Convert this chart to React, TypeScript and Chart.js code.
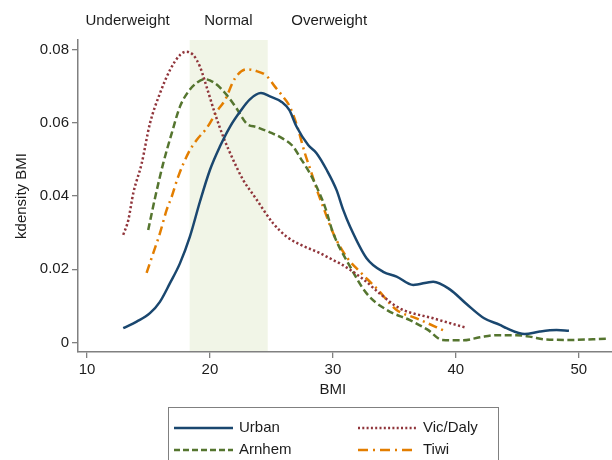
import React, { useEffect, useRef } from "react";
import { Chart, registerables } from "chart.js";

Chart.register(...registerables);

// ---------------- data ----------------
const URBAN_BMI = [12.95, 14.04, 15.12, 15.93, 16.75, 17.56, 18.37, 19.19, 20.0, 20.81, 21.63, 22.44, 23.25, 24.15, 24.88, 25.83, 26.45, 27.05, 27.99, 28.67, 29.5, 30.3, 30.84, 31.4, 32.74, 34.09, 35.18, 36.53, 38.16, 39.51, 40.87, 42.3, 43.58, 44.12, 45.6, 46.83, 48.19, 49.2];
const URBAN_DEN = [0.0039, 0.0057, 0.008, 0.0111, 0.0162, 0.0216, 0.0289, 0.0385, 0.0471, 0.0535, 0.0589, 0.063, 0.0664, 0.0681, 0.0672, 0.0657, 0.0635, 0.0589, 0.0539, 0.0517, 0.0471, 0.0416, 0.0362, 0.0316, 0.023, 0.0193, 0.018, 0.0157, 0.0166, 0.0145, 0.0105, 0.0066, 0.0048, 0.0039, 0.0023, 0.003, 0.0034, 0.0032];

const VIC_BMI = [12.95, 13.36, 13.76, 14.45, 15.12, 15.93, 16.75, 17.56, 18.05, 18.64, 19.19, 19.73, 20.4, 21.08, 21.9, 22.7, 23.7, 25.15, 26.24, 27.3, 28.94, 30.03, 30.57, 32.5, 33.8, 35.45, 38.16, 40.87];
const VIC_DEN = [0.0294, 0.0334, 0.0407, 0.0489, 0.0598, 0.068, 0.0744, 0.0785, 0.0794, 0.0785, 0.0753, 0.0698, 0.0626, 0.0562, 0.0498, 0.0444, 0.0395, 0.0325, 0.0289, 0.0268, 0.0244, 0.0225, 0.0216, 0.0172, 0.0134, 0.0093, 0.0066, 0.004];

const ARNHEM_BMI = [14.98, 15.53, 16.2, 16.89, 17.56, 18.24, 18.92, 19.59, 20.4, 21.36, 22.17, 22.98, 23.8, 24.88, 25.96, 26.77, 27.3, 28.13, 28.8, 29.35, 30.03, 31.4, 32.74, 34.37, 36.26, 37.7, 38.9, 40.6, 41.95, 43.3, 44.93, 46.0, 47.37, 49.27, 52.2];
const ARNHEM_DEN = [0.0307, 0.0394, 0.0489, 0.0571, 0.0644, 0.0685, 0.0709, 0.0719, 0.0708, 0.0676, 0.0639, 0.0598, 0.0588, 0.0574, 0.0556, 0.0535, 0.0507, 0.0462, 0.0416, 0.0371, 0.0298, 0.0207, 0.0134, 0.0089, 0.0061, 0.0035, 0.0007, 0.0006, 0.0014, 0.002, 0.002, 0.0016, 0.0008, 0.0007, 0.001];

const TIWI_BMI = [14.85, 15.39, 15.93, 16.48, 16.89, 17.42, 18.24, 18.92, 19.73, 20.54, 21.22, 22.03, 22.98, 23.8, 24.61, 25.3, 25.83, 26.5, 27.1, 27.72, 28.27, 28.8, 29.2, 30.03, 31.1, 32.2, 33.55, 35.18, 36.8, 39.2];
const TIWI_DEN = [0.019, 0.0244, 0.0298, 0.0362, 0.0398, 0.0453, 0.0517, 0.0553, 0.0585, 0.063, 0.0662, 0.0721, 0.0746, 0.0741, 0.0728, 0.0698, 0.0676, 0.0644, 0.059, 0.0517, 0.0462, 0.0407, 0.0371, 0.0298, 0.0234, 0.0193, 0.0148, 0.0089, 0.0066, 0.003];

const SERIES_NAMES = ["Urban", "Vic/Daly", "Arnhem", "Tiwi"];
const X_TICKS = [10, 20, 30, 40, 50];
const Y_TICKS = [0, 0.02, 0.04, 0.06, 0.08];
const NORMAL_RANGE = [18.35, 24.7];
const ZONE_LABELS = ["Underweight", "Normal", "Overweight"];
const ZONE_LABEL_BMI = [13.3, 21.5, 29.7];
const X_TITLE = "BMI";
const Y_TITLE = "kdensity BMI";

// ---------------- style ----------------
const FONT = "'Liberation Sans', Arial, Helvetica, sans-serif";
const TEXT = "#1c1c1c";
const AXIS = "#808080";
const BAND = "#f1f5e7";
const COLORS = ["#1a476f", "#90353b", "#55752f", "#e37e00"];
const DASHES: number[][] = [[], [2.2, 2.4], [7, 3.5], [9, 4.5, 2, 4.5]];
const LEGEND_DASHES: number[][] = [[], [2, 2.3], [6, 3], [10, 5, 2, 5]];

const X_MIN = 9.27;
const X_MAX = 52.7;
const Y_MIN = -0.0026;
const Y_MAX = 0.0826;

const bandPlugin = {
  id: "band",
  beforeDraw(chart: any) {
    const { ctx, chartArea, scales } = chart;
    ctx.save();
    ctx.fillStyle = "#ffffff";
    ctx.fillRect(0, 0, chart.width, chart.height);
    const x0 = scales.x.getPixelForValue(NORMAL_RANGE[0]);
    const x1 = scales.x.getPixelForValue(NORMAL_RANGE[1]);
    ctx.fillStyle = BAND;
    ctx.fillRect(x0, chartArea.top, x1 - x0, chartArea.bottom - chartArea.top);
    ctx.restore();
  },
};

const decorPlugin = {
  id: "decor",
  afterDraw(chart: any) {
    const { ctx, chartArea, scales } = chart;
    const xs = scales.x;
    ctx.save();
    ctx.fillStyle = TEXT;
    ctx.font = `15px ${FONT}`;
    ctx.textAlign = "center";
    ctx.textBaseline = "middle";
    // zone labels
    ZONE_LABELS.forEach((t, i) => {
      ctx.fillText(t, xs.getPixelForValue(ZONE_LABEL_BMI[i]), chartArea.top - 19);
    });
    // x title
    const cx = xs.getPixelForValue((X_TICKS[0] + X_TICKS[X_TICKS.length - 1]) / 2);
    ctx.fillText(X_TITLE, cx, 390);
    // y title
    ctx.save();
    ctx.translate(22, (chartArea.top + chartArea.bottom) / 2);
    ctx.rotate(-Math.PI / 2);
    ctx.fillText(Y_TITLE, 0, 0);
    ctx.restore();

    // legend
    const w = 330;
    const left = Math.round(cx - w / 2);
    const top = 407;
    ctx.strokeStyle = AXIS;
    ctx.lineWidth = 1;
    ctx.strokeRect(left + 0.5, top + 0.5, w, 80);
    const rows = [428, 450];
    const cols = [left + 6, left + 190];
    const sampleLen = 59;
    chart.data.datasets.forEach((ds: any, i: number) => {
      const r = Math.floor(i / 2);
      const c = i % 2;
      const y = rows[r];
      const x = cols[c];
      ctx.save();
      ctx.strokeStyle = ds.borderColor;
      ctx.lineWidth = 2.5;
      ctx.setLineDash(LEGEND_DASHES[i]);
      ctx.beginPath();
      ctx.moveTo(x, y);
      ctx.lineTo(x + sampleLen, y);
      ctx.stroke();
      ctx.restore();
      ctx.textAlign = "left";
      ctx.fillStyle = TEXT;
      ctx.fillText(ds.label, x + sampleLen + 6, y);
    });
    ctx.restore();
  },
};

export default function App() {
  const ref = useRef<HTMLCanvasElement | null>(null);
  useEffect(() => {
    if (!ref.current) return;
    const series = [
      [URBAN_BMI, URBAN_DEN],
      [VIC_BMI, VIC_DEN],
      [ARNHEM_BMI, ARNHEM_DEN],
      [TIWI_BMI, TIWI_DEN],
    ];
    const chart = new Chart(ref.current, {
      type: "line",
      data: {
        datasets: series.map(([xs, ys], i) => ({
          label: SERIES_NAMES[i],
          data: xs.map((x, j) => ({ x, y: ys[j] })),
          borderColor: COLORS[i],
          backgroundColor: COLORS[i],
          borderWidth: 2.5,
          borderDash: DASHES[i],
          borderCapStyle: "butt",
          pointRadius: 0,
          fill: false,
          tension: 0.4,
          cubicInterpolationMode: "monotone",
        })),
      },
      options: {
        animation: false,
        responsive: false,
        devicePixelRatio: 1,
        layout: { padding: { top: 40, right: 0, left: 0, bottom: 0 } },
        plugins: { legend: { display: false }, tooltip: { enabled: false } },
        scales: {
          x: {
            type: "linear",
            min: X_MIN,
            max: X_MAX,
            afterBuildTicks: (s: any) => {
              s.ticks = X_TICKS.map((v) => ({ value: v }));
            },
            afterFit: (s: any) => {
              s.height = 108;
            },
            grid: { display: true, drawOnChartArea: false, drawTicks: true, tickLength: 6, color: AXIS, lineWidth: 1.3 },
            border: { display: true, color: AXIS, width: 1.5 },
            ticks: { color: TEXT, font: { family: FONT, size: 15 }, padding: 3, maxRotation: 0, autoSkip: false, callback: (v: any) => String(v) },
          },
          y: {
            type: "linear",
            min: Y_MIN,
            max: Y_MAX,
            afterBuildTicks: (s: any) => {
              s.ticks = Y_TICKS.map((v) => ({ value: v }));
            },
            afterFit: (s: any) => {
              s.width = 78;
            },
            grid: { display: true, drawOnChartArea: false, drawTicks: true, tickLength: 6, color: AXIS, lineWidth: 1.3 },
            border: { display: true, color: AXIS, width: 1.5 },
            ticks: { color: TEXT, font: { family: FONT, size: 15 }, padding: 3, autoSkip: false, callback: (v: any) => (Number(v) === 0 ? "0" : Number(v).toFixed(2)) },
          },
        },
      } as any,
      plugins: [bandPlugin, decorPlugin],
    });
    return () => chart.destroy();
  }, []);
  return (
    <div style={{ position: "fixed", left: 0, top: 0, width: 612, height: 460, background: "#fff" }}>
      <canvas ref={ref} width={612} height={460} style={{ display: "block" }} />
    </div>
  );
}
